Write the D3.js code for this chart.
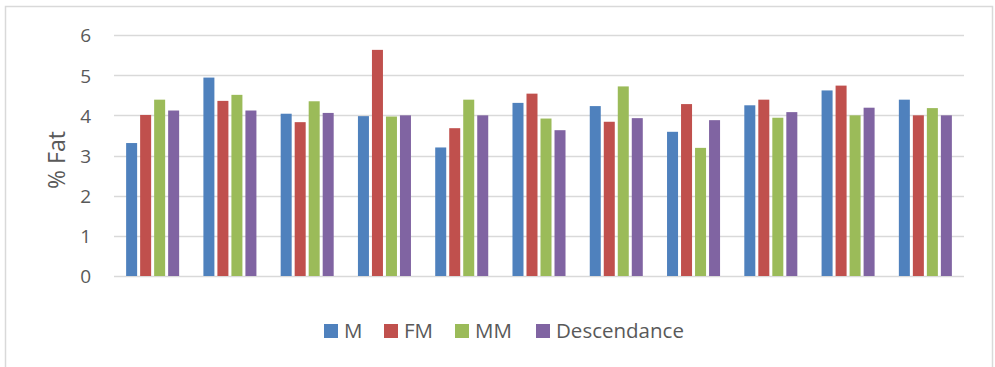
<!DOCTYPE html>
<html>
<head>
<meta charset="utf-8">
<script src="https://cdn.jsdelivr.net/npm/d3@7"></script>
<style>
  html, body { margin: 0; padding: 0; background: #fff; }
  svg { display: block; }
  text { font-family: "Open Sans", "Noto Sans", sans-serif; fill: #595959; }
</style>
</head>
<body>
<svg id="chart" width="995" height="367"></svg>
<script>
// Fat percentage per group, four series
const groups = ["1", "2", "3", "4", "5", "6", "7", "8", "9", "10", "11"];
const seriesNames = ["M", "FM", "MM", "Descendance"];
const seriesColors = ["#4F81BD", "#C0504D", "#9BBB59", "#8064A2"];
const valuesM           = [3.31, 4.94, 4.04, 3.98, 3.20, 4.31, 4.23, 3.59, 4.25, 4.62, 4.39];
const valuesFM          = [4.01, 4.36, 3.83, 5.63, 3.68, 4.54, 3.84, 4.28, 4.39, 4.74, 4.00];
const valuesMM          = [4.39, 4.51, 4.35, 3.97, 4.39, 3.92, 4.72, 3.19, 3.94, 4.00, 4.18];
const valuesDescendance = [4.12, 4.12, 4.06, 4.00, 4.00, 3.63, 3.93, 3.88, 4.08, 4.19, 4.00];
const yTicks = [0, 1, 2, 3, 4, 5, 6];
const yTitle = "% Fat";

const seriesValues = [valuesM, valuesFM, valuesMM, valuesDescendance];
const rows = groups.map((g, i) => ({
  group: g,
  values: seriesNames.map((s, j) => ({ series: s, value: seriesValues[j][i], color: seriesColors[j] }))
}));

const svg = d3.select("#chart");

// outer chart border
svg.append("rect")
  .attr("x", 5.5).attr("y", 6.5)
  .attr("width", 987).attr("height", 380)
  .attr("fill", "none").attr("stroke", "#d9d9d9").attr("stroke-width", 1.5);

const plot = { left: 114, right: 964, top: 35, bottom: 276 };

const y = d3.scaleLinear().domain([0, 6]).range([plot.bottom, plot.top]);
const x0 = d3.scaleBand().domain(groups)
  .range([plot.left, plot.right])
  .paddingInner(0.275).paddingOuter(0.1375);
const x1 = d3.scaleBand().domain(seriesNames).range([0, x0.bandwidth()]);

// horizontal gridlines
svg.append("g")
  .selectAll("line")
  .data(yTicks)
  .join("line")
  .attr("x1", plot.left).attr("x2", plot.right)
  .attr("y1", d => Math.round(y(d)) + 0.5).attr("y2", d => Math.round(y(d)) + 0.5)
  .attr("stroke", "#d9d9d9").attr("stroke-width", 1.5);

// y axis labels
const yAxis = d3.axisLeft(y).tickValues(yTicks).tickSize(0).tickPadding(0).tickFormat(d3.format("d"));
const yg = svg.append("g").attr("transform", `translate(${91},0)`).call(yAxis);
yg.select(".domain").remove();
yg.selectAll("text")
  .style("font-family", "'Open Sans', 'Noto Sans', sans-serif")
  .style("font-size", "19px")
  .attr("fill", "#595959")
  .attr("dy", "0.36em");

// y axis title
svg.append("text")
  .attr("transform", `translate(65,${160}) rotate(-90)`)
  .attr("text-anchor", "middle")
  .style("font-size", "23px")
  .text(yTitle);

// bars
const gap = 1.5;
svg.append("g")
  .selectAll("g")
  .data(rows)
  .join("g")
  .attr("transform", d => `translate(${x0(d.group)},0)`)
  .selectAll("rect")
  .data(d => d.values)
  .join("rect")
  .attr("x", d => x1(d.series) + gap)
  .attr("width", x1.bandwidth() - 2 * gap)
  .attr("y", d => y(d.value))
  .attr("height", d => y(0) - y(d.value))
  .attr("fill", d => d.color);

// legend
const legendX = [324, 384, 455, 536];
const legend = svg.append("g")
  .selectAll("g")
  .data(seriesNames)
  .join("g")
  .attr("transform", (d, i) => `translate(${legendX[i]},324)`);
legend.append("rect")
  .attr("width", 14).attr("height", 14)
  .attr("fill", (d, i) => seriesColors[i]);
legend.append("text")
  .attr("x", 20).attr("y", 7)
  .attr("dy", "0.36em")
  .style("font-size", "20.5px")
  .text(d => d);
</script>
</body>
</html>
